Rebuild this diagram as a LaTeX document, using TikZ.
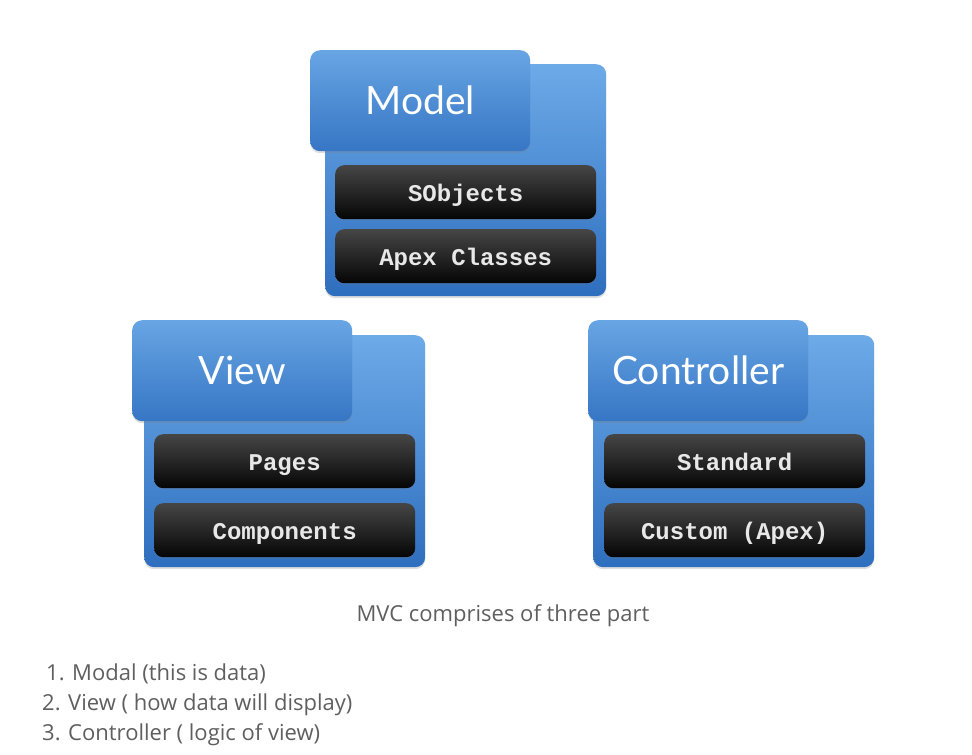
\documentclass[tikz,border=0pt]{standalone}
\usepackage{fontspec}
\setmainfont{Open Sans}
\newfontfamily\titlefont{Lato}
\newfontfamily\codefont{Liberation Mono}
\usetikzlibrary{shadows}
\definecolor{backtop}{RGB}{108,170,232}
\definecolor{backbot}{RGB}{46,110,190}
\definecolor{tabtop}{RGB}{104,165,228}
\definecolor{tabbot}{RGB}{54,118,196}
\definecolor{bartop}{RGB}{70,70,70}
\definecolor{barbot}{RGB}{5,5,5}
\definecolor{bartext}{RGB}{232,232,232}
\definecolor{captext}{RGB}{95,95,95}
\tikzset{
  backbox/.style={rectangle, rounded corners=10pt, anchor=north west, inner sep=0pt,
    minimum width=281pt, minimum height=232pt, top color=backtop, bottom color=backbot,
    drop shadow={opacity=0.25, shadow xshift=0pt, shadow yshift=-2pt}},
  tabbox/.style={rectangle, rounded corners=10pt, anchor=north west, inner sep=0pt,
    minimum width=220pt, minimum height=101pt, top color=tabtop, bottom color=tabbot,
    text=white, font=\titlefont\fontsize{39}{39}\selectfont,
    text height=28pt, text depth=0pt,
    drop shadow={opacity=0.25, shadow xshift=0pt, shadow yshift=-2pt}},
  barbox/.style={rectangle, rounded corners=9pt, anchor=north west, inner sep=0pt,
    minimum width=261pt, minimum height=54pt, top color=bartop, bottom color=barbot,
    text=bartext, font=\codefont\bfseries\fontsize{24}{24}\selectfont,
    text height=18pt, text depth=0pt,
    drop shadow={opacity=0.2, shadow xshift=0pt, shadow yshift=-1.5pt}},
  captxt/.style={text=captext, font=\fontsize{22}{22}\selectfont, inner sep=0pt, anchor=base},
  listtxt/.style={text=captext, font=\fontsize{22}{22}\selectfont, inner sep=0pt, anchor=base west},
}
\begin{document}
\begin{tikzpicture}[x=1pt,y=-1pt]
\useasboundingbox[fill=white] (0,0) rectangle (972,755);
% Model
\node[backbox] (mback) at (325,64) {};
\node[tabbox] (mtab) at (310,50) {Model};
\node[barbox] (mbar1) at (335,165) {SObjects};
\node[barbox] (mbar2) at (335,229) {Apex Classes};
% View
\node[backbox] (vback) at (144,335) {};
\node[tabbox] (vtab) at (132,320) {View};
\node[barbox] (vbar1) at (154,434) {Pages};
\node[barbox] (vbar2) at (154,503) {Components};
% Controller
\node[backbox] (cback) at (593,335) {};
\node[tabbox] (ctab) at (588,320) {Controller};
\node[barbox] (cbar1) at (604,434) {Standard};
\node[barbox] (cbar2) at (604,503) {Custom (Apex)};
% Caption and list
\node[captxt] (cap) at (503,621) {MVC comprises of three part};
\node[listtxt] (l1) at (46,680) {1. Modal (this is data)};
\node[listtxt] (l2) at (42,710) {2. View ( how data will display)};
\node[listtxt] (l3) at (42,740) {3. Controller ( logic of view)};
\end{tikzpicture}
\end{document}
